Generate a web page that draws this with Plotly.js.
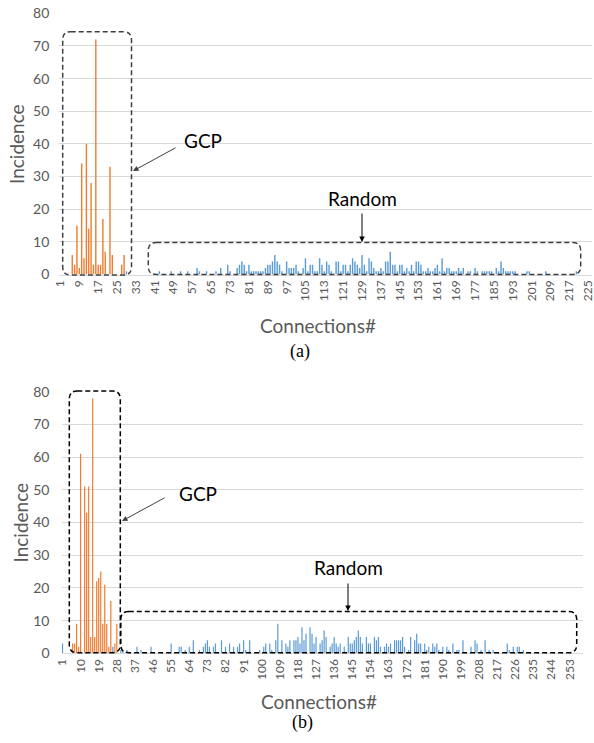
<!DOCTYPE html>
<html>
<head>
<meta charset="utf-8">
<script src="https://cdn.plot.ly/plotly-3.0.1.min.js"></script>
<style>html,body{margin:0;padding:0;background:#fff;}#chart{width:594px;height:743px;}</style>
</head>
<body>
<div id="chart"></div>
<script>
// ---------- DATA ----------
// (a) connection numbers 1..226
const topCategories = Array.from({length: 226}, (_, i) => i + 1);
const topTickLabels = [1,9,17,25,33,41,49,57,65,73,81,89,97,105,113,121,129,137,145,153,161,169,177,185,193,201,209,217,225];
const topGCP = [
  0,0,0,0,0,6,3,15,2,34,
  5,40,14,28,3,72,3,3,17,7,
  0,33,6,0,0,0,3,6,0,0
];
const topRandom = [
  0,0,0,0,0,0,0,0,0,0,
  0,0,0,0,0,0,0,0,0,0,
  0,0,0,0,0,0,0,0,1,0,
  0,0,0,0,0,0,0,0,0,0,
  0,0,1,0,0,0,0,1,0,0,
  0,1,0,0,1,0,0,0,2,1,
  0,0,1,0,0,0,1,0,2,0,
  0,3,1,0,0,2,3,4,3,1,
  3,1,1,1,1,1,1,2,3,3,
  4,6,4,3,1,0,4,2,2,2,
  3,1,0,2,5,1,3,3,1,1,
  5,3,1,4,3,1,0,4,4,1,
  3,3,1,3,5,4,3,2,6,3,
  1,5,4,2,1,1,2,1,4,4,
  7,3,3,1,3,3,1,2,1,3,
  1,4,4,3,1,1,2,1,1,2,
  3,1,5,1,2,2,1,1,1,2,
  1,2,0,1,1,0,2,1,0,1,
  1,1,1,1,0,2,1,4,2,1,
  1,1,1,1,0,0,0,0,1,1,
  0,0,0,0,0,0,1,0,0,0,
  0,0,0,0,0,0,0,0,0,1,
  0,0,0,0,0,0
];

// (b) connection numbers 1..259
const bottomCategories = Array.from({length: 259}, (_, i) => i + 1);
const bottomTickLabels = [1,10,19,28,37,46,55,64,73,82,91,100,109,118,127,136,145,154,163,172,181,190,199,208,217,226,235,244,253];
const bottomGCP = [
  0,0,0,0,0,3,3,9,2,61,
  0,51,43,51,5,78,5,22,23,25,
  9,21,9,2,16,0,3,9,0,0
];
const bottomRandom = [
  3,0,0,0,0,0,0,0,0,0,
  0,0,0,0,0,0,0,0,0,0,
  0,0,0,0,0,2,0,0,0,1,
  1,0,1,0,0,0,0,2,0,1,
  0,0,0,0,2,0,0,0,0,0,
  0,0,0,0,3,0,0,0,2,2,
  0,1,0,2,0,4,0,0,1,0,
  2,3,4,2,0,2,3,0,0,4,
  0,2,0,3,0,2,0,2,3,0,
  4,1,0,4,0,0,0,0,1,0,
  2,3,0,3,1,0,4,9,0,4,
  0,3,2,4,0,4,4,5,3,8,
  4,6,0,8,6,3,5,0,3,4,
  7,5,0,2,3,5,3,2,3,0,
  2,0,5,3,3,4,5,7,5,3,
  0,5,3,3,0,5,4,5,2,0,
  2,3,2,3,0,4,4,4,4,5,
  2,0,1,5,0,4,6,3,3,0,
  3,1,2,0,3,2,3,1,0,2,
  0,2,1,0,3,0,1,1,0,4,
  0,0,0,2,0,4,3,0,1,0,
  4,0,1,0,1,0,0,0,0,0,
  0,3,1,0,2,0,2,2,0,1,
  0,0,0,0,0,0,0,0,0,0,
  0,0,0,0,0,0,0,0,0,0,
  0,0,0,0,0,0,0,0,0
];

// ---------- STYLE / LAYOUT ----------
const W = 594, H = 743;
const ORANGE = '#ED7D31', BLUE = '#5B9BD5';
const FONT = 'Lato, "Liberation Sans", Arial, sans-serif';
const px = x => x / W;
const py = y => 1 - y / H;

function roundRect(x0, y0, x1, y1, r) {
  const P = (x, y) => px(x) + ',' + py(y);
  return 'M' + P(x0 + r, y0) + ' L' + P(x1 - r, y0) + ' Q' + P(x1, y0) + ' ' + P(x1, y0 + r) +
    ' L' + P(x1, y1 - r) + ' Q' + P(x1, y1) + ' ' + P(x1 - r, y1) +
    ' L' + P(x0 + r, y1) + ' Q' + P(x0, y1) + ' ' + P(x0, y1 - r) +
    ' L' + P(x0, y0 + r) + ' Q' + P(x0, y0) + ' ' + P(x0 + r, y0) + ' Z';
}
function box(x0, y0, x1, y1, color) {
  return {type: 'path', xref: 'paper', yref: 'paper', path: roundRect(x0, y0, x1, y1, 8),
    line: {color: color, width: 1.5, dash: '5px,3px'}, fillcolor: 'rgba(0,0,0,0)', layer: 'above'};
}
function arrow(hx, hy, tx, ty, color) {
  return {xref: 'paper', yref: 'paper', x: px(hx), y: py(hy), ax: tx - hx, ay: ty - hy,
    text: '', showarrow: true, arrowhead: 2, arrowsize: 1.1, arrowwidth: 1, arrowcolor: color};
}
function label(text, x, y, size, color, family, angle) {
  return {xref: 'paper', yref: 'paper', x: px(x), y: py(y), text: text, showarrow: false,
    xanchor: 'center', yanchor: 'middle', textangle: angle || 0,
    font: {family: family || FONT, size: size, color: color}};
}

const traces = [
  {type: 'bar', x: topCategories, y: topGCP, xaxis: 'x', yaxis: 'y', marker: {color: ORANGE}, width: 0.6, hoverinfo: 'none'},
  {type: 'bar', x: topCategories, y: topRandom, xaxis: 'x', yaxis: 'y', marker: {color: BLUE}, width: 0.6, hoverinfo: 'none'},
  {type: 'bar', x: bottomCategories, y: bottomGCP, xaxis: 'x2', yaxis: 'y2', marker: {color: ORANGE}, width: 0.6, hoverinfo: 'none'},
  {type: 'bar', x: bottomCategories, y: bottomRandom, xaxis: 'x2', yaxis: 'y2', marker: {color: BLUE}, width: 0.6, hoverinfo: 'none'}
];

const xCommon = {tickangle: -90, tickfont: {family: FONT, size: 12, color: '#595959'}, showgrid: false,
  showline: true, linecolor: '#D9D9D9', linewidth: 1, zeroline: false, ticks: '', ticklabeloverflow: 'allow'};
const yCommon = {range: [0, 80], dtick: 10, gridcolor: '#D9D9D9', gridwidth: 1, zeroline: false, showline: false,
  tickfont: {family: FONT, size: 14, color: '#595959'}, ticks: ''};

const layout = {
  width: W, height: H, margin: {l: 0, r: 0, t: 0, b: 0}, paper_bgcolor: '#fff', plot_bgcolor: '#fff',
  showlegend: false, barmode: 'overlay',
  xaxis: Object.assign({}, xCommon, {domain: [px(59.3), px(591.7)], anchor: 'y', range: [0.5, 226.5],
    tickvals: topTickLabels, ticktext: topTickLabels.map(String)}),
  yaxis: Object.assign({}, yCommon, {domain: [py(274.5), py(13.3)], anchor: 'x', ticklabelstandoff: 9}),
  xaxis2: Object.assign({}, xCommon, {domain: [px(61.5), px(582.7)], anchor: 'y2', range: [0.5, 259.5],
    tickvals: bottomTickLabels, ticktext: bottomTickLabels.map(String)}),
  yaxis2: Object.assign({}, yCommon, {domain: [py(653.3), py(391.7)], anchor: 'x2', ticklabelstandoff: 11}),
  shapes: [
    box(62.7, 31.7, 131.5, 275, '#404040'),
    box(148.3, 242.5, 580.7, 274.5, '#404040'),
    box(69.3, 391, 120.3, 652.7, '#000000'),
    box(120.8, 611.5, 576.7, 652.7, '#000000')
  ],
  annotations: [
    label('Incidence', 16, 144, 19, '#595959', FONT, -90),
    label('Connections#', 317.5, 325, 19, '#595959'),
    label('(a)', 300, 352, 18, '#000000', '"Liberation Serif", "Times New Roman", serif'),
    label('GCP', 203, 141, 19, '#000000'),
    label('Random', 362, 198, 19, '#000000'),
    arrow(133, 171, 177, 147, '#404040'),
    arrow(362, 242, 362, 212, '#000000'),

    label('Incidence', 20, 522.5, 19, '#595959', FONT, -90),
    label('Connections#', 319, 701.7, 19, '#595959'),
    label('(b)', 302, 722, 18, '#000000', '"Liberation Serif", "Times New Roman", serif'),
    label('GCP', 198, 493, 19, '#000000'),
    label('Random', 348, 567, 19, '#000000'),
    arrow(122, 521, 166, 497, '#404040'),
    arrow(348, 611, 348, 582, '#000000')
  ]
};

Plotly.newPlot('chart', traces, layout, {staticPlot: true, displayModeBar: false});
</script>
</body>
</html>
